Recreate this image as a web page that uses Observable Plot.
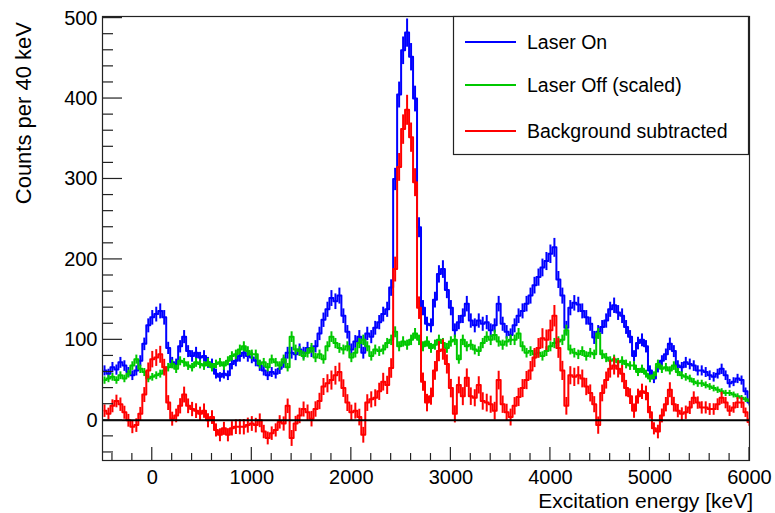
<!DOCTYPE html>
<html><head><meta charset="utf-8">
<script src="https://cdn.jsdelivr.net/npm/d3@7"></script>
<script src="https://cdn.jsdelivr.net/npm/@observablehq/plot@0.6"></script>
<style>
body{margin:0;background:#fff}
#chart{position:relative;width:775px;height:513px}
svg{font-family:"Liberation Sans",Arial,Helvetica,sans-serif}
</style>
</head><body><div id="chart"></div>
<script>
// Histogram binning (keV): first bin low edge and bin width
const binLowEdge = -500;
const binWidth = 40;

// Counts per 40 keV, bins with low edges -500, -460, ... , 5980 (163 bins)
const laserOn = [
  62, 58, 66, 63, 72, 68, 60, 56, 62, 74,        // -500 .. -140
  95, 118, 128, 132, 136, 128, 90, 72, 70, 92,   // -100 .. 260
  104, 86, 80, 84, 78, 80, 72, 70, 58, 54,       // 300 .. 660
  58, 56, 70, 74, 80, 84, 80, 78, 74, 68,        // 700 .. 1060
  62, 56, 60, 58, 64, 72, 84, 84, 82, 88,        // 1100 .. 1460
  84, 90, 86, 92, 108, 125, 138, 152, 148, 155,  // 1500 .. 1860
  130, 110, 88, 98, 104, 84, 108, 104, 115, 122, // 1900 .. 2260
  132, 138, 165, 300, 405, 460, 482, 452, 400, 240, // 2300 .. 2660
  140, 120, 118, 150, 182, 188, 162, 140, 112, 122, // 2700 .. 3060
  130, 145, 124, 118, 124, 120, 122, 112, 118, 145, // 3100 .. 3460
  120, 110, 106, 118, 130, 136, 145, 155, 168, 178, // 3500 .. 3860
  190, 198, 207, 215, 175, 155, 115, 140, 146, 144, // 3900 .. 4260
  136, 128, 120, 103, 110, 116, 124, 138, 143, 134, // 4300 .. 4660
  130, 116, 104, 80, 96, 100, 92, 62, 52, 66,    // 4700 .. 5060
  74, 82, 95, 86, 68, 66, 72, 70, 68, 62,        // 5100 .. 5460
  62, 60, 56, 54, 58, 64, 56, 46, 48, 52,        // 5500 .. 5860
  50, 36, 22                                     // 5900 .. 5980
];
const laserOff = [
  50, 52, 54, 50, 56, 52, 58, 68, 76, 64,
  60, 52, 54, 56, 58, 62, 66, 70, 64, 74,
  72, 68, 66, 72, 70, 68, 72, 66, 70, 72,
  68, 74, 80, 82, 88, 92, 86, 82, 82, 70,
  72, 66, 76, 72, 68, 76, 66, 104, 88, 86,
  80, 84, 90, 78, 82, 76, 92, 104, 96, 90,
  88, 92, 78, 84, 96, 100, 92, 80, 88, 86,
  88, 96, 100, 110, 92, 98, 94, 100, 108, 100,
  92, 98, 90, 94, 100, 96, 90, 98, 100, 76,
  100, 92, 94, 88, 86, 96, 104, 100, 106, 98,
  94, 98, 100, 100, 108, 92, 84, 86, 82, 84,
  80, 86, 92, 96, 98, 100, 112, 88, 84, 82,
  86, 80, 84, 82, 108, 82, 78, 74, 76, 72,
  74, 70, 68, 68, 60, 64, 58, 52, 56, 70,
  64, 66, 62, 68, 60, 56, 54, 52, 48, 46,
  46, 44, 42, 40, 38, 36, 34, 34, 32, 30,
  28, 26, 24
];
const subtracted = [
  12, 8, 18, 24, 20, 10, 0, -8, -6, 8,
  32, 62, 76, 78, 82, 66, 22, 2, 6, 18,
  32, 18, 14, 12, 8, 12, 0, 4, -12, -18,
  -10, -18, -10, -8, -8, -8, -6, -4, -6, 0,
  -14, -22, -16, -12, -2, -4, 18, -22, -4, 6,
  14, 10, 2, 14, 24, 42, 46, 50, 56, 60,
  40, 22, 10, 12, 4, -18, 22, 26, 28, 36,
  48, 44, 65, 188, 315, 362, 386, 352, 296, 140,
  48, 22, 30, 62, 86, 88, 70, 40, 8, 44,
  30, 53, 30, 28, 44, 24, 22, 20, 12, 50,
  20, 10, 4, 18, 29, 40, 50, 62, 78, 90,
  102, 100, 112, 130, 90, 62, 18, 56, 54, 56,
  52, 42, 34, 20, -6, 34, 50, 64, 68, 64,
  58, 40, 30, 12, 30, 36, 34, 10, -10, -14,
  6, 20, 38, 20, 12, 8, 10, 16, 28, 22,
  16, 16, 14, 14, 20, 28, 22, 12, 16, 22,
  22, 10, -2
];

const xTicks = [0, 1000, 2000, 3000, 4000, 5000, 6000];
const yTicks = [0, 100, 200, 300, 400, 500];
const seriesNames = ["Laser On", "Laser Off (scaled)", "Background subtracted"];
const seriesColors = ["#0000ff", "#00c800", "#ff0000"];
const xTitle = "Excitation energy [keV]";
const yTitle = "Counts per 40 keV";

// Statistical (Poisson-like) error bars for display
const errOn = laserOn.map(v => 0.8 * Math.sqrt(Math.max(v, 1)));
const errOff = laserOff.map(v => 0.65 * Math.sqrt(Math.max(v, 1)));
const errSub = errOn.map((e, i) => Math.sqrt(e * e + errOff[i] * errOff[i]));

function table(vals, errs) {
  return vals.map((v, i) => {
    const lo = binLowEdge + i * binWidth;
    return {xc: lo + binWidth / 2, y: v, ylo: v - errs[i], yhi: v + errs[i]};
  });
}
const tables = [table(laserOn, errOn), table(laserOff, errOff), table(subtracted, errSub)];

const histMarks = tables.flatMap((t, k) => [
  Plot.line(t, {x: "xc", y: "y", curve: "step", stroke: seriesColors[k], strokeWidth: 2, clip: true}),
  Plot.link(t, {x1: "xc", x2: "xc", y1: "ylo", y2: "yhi", stroke: seriesColors[k], strokeWidth: 2, clip: true})
]);

const plot = Plot.plot({
  width: 775,
  height: 513,
  marginLeft: 102,
  marginRight: 26,
  marginTop: 16,
  marginBottom: 53,
  style: {background: "#fff", color: "#000", fontFamily: "'Liberation Sans', Arial, sans-serif"},
  x: {domain: [-500, 6000]},
  y: {domain: [-50, 502]},
  marks: [
    ...histMarks,
    Plot.ruleY([0], {stroke: "#000", strokeWidth: 2}),
    Plot.frame({stroke: "#222", strokeWidth: 1.2}),
    Plot.axisX({ticks: xTicks, tickSize: 0, tickPadding: 9, fontSize: 20, label: null, tickFormat: d => String(d)}),
    Plot.axisY({ticks: yTicks, tickSize: 0, tickPadding: 5, fontSize: 20, label: null, tickFormat: d => String(d)})
  ]
});
document.getElementById("chart").appendChild(plot);

// ROOT-style inward ticks, placed with Plot's own scales
const sx = plot.scale("x"), sy = plot.scale("y");
const svg = d3.select(plot);
const g = svg.append("g").attr("stroke", "#222").attr("stroke-width", 1.2);
const x0 = sx.apply(-500), yb = sy.apply(-50);
d3.range(-40, 501, 20).forEach(v => {
  const y = sy.apply(v);
  const len = v % 100 === 0 ? 20 : 11;
  g.append("line").attr("x1", x0).attr("x2", x0 + len).attr("y1", y).attr("y2", y);
});
d3.range(-400, 6001, 200).forEach(v => {
  const x = sx.apply(v);
  const len = v % 1000 === 0 ? 13 : 7;
  g.append("line").attr("x1", x).attr("x2", x).attr("y1", yb).attr("y2", yb - len);
});

// Axis titles
svg.append("text").attr("x", 753).attr("y", 508).attr("text-anchor", "end")
  .attr("font-size", 21).attr("fill", "#000").text(xTitle);
svg.append("text").attr("transform", "translate(31,22) rotate(-90)").attr("text-anchor", "end")
  .attr("font-size", 22).attr("fill", "#000").text(yTitle);

// Legend box
const lg = svg.append("g").attr("text-anchor", "start");
lg.append("rect").attr("x", 453.5).attr("y", 16.5).attr("width", 295).attr("height", 138)
  .attr("fill", "#fff").attr("stroke", "#222").attr("stroke-width", 1.2);
const legendY = [42, 85, 131];
seriesNames.forEach((name, i) => {
  lg.append("line").attr("x1", 465).attr("x2", 516).attr("y1", legendY[i]).attr("y2", legendY[i])
    .attr("stroke", seriesColors[i]).attr("stroke-width", 2);
  lg.append("text").attr("x", 527).attr("y", legendY[i] + 7).attr("font-size", 19.5)
    .attr("text-anchor", "start").attr("fill", "#000").text(name);
});
</script>
</body></html>
